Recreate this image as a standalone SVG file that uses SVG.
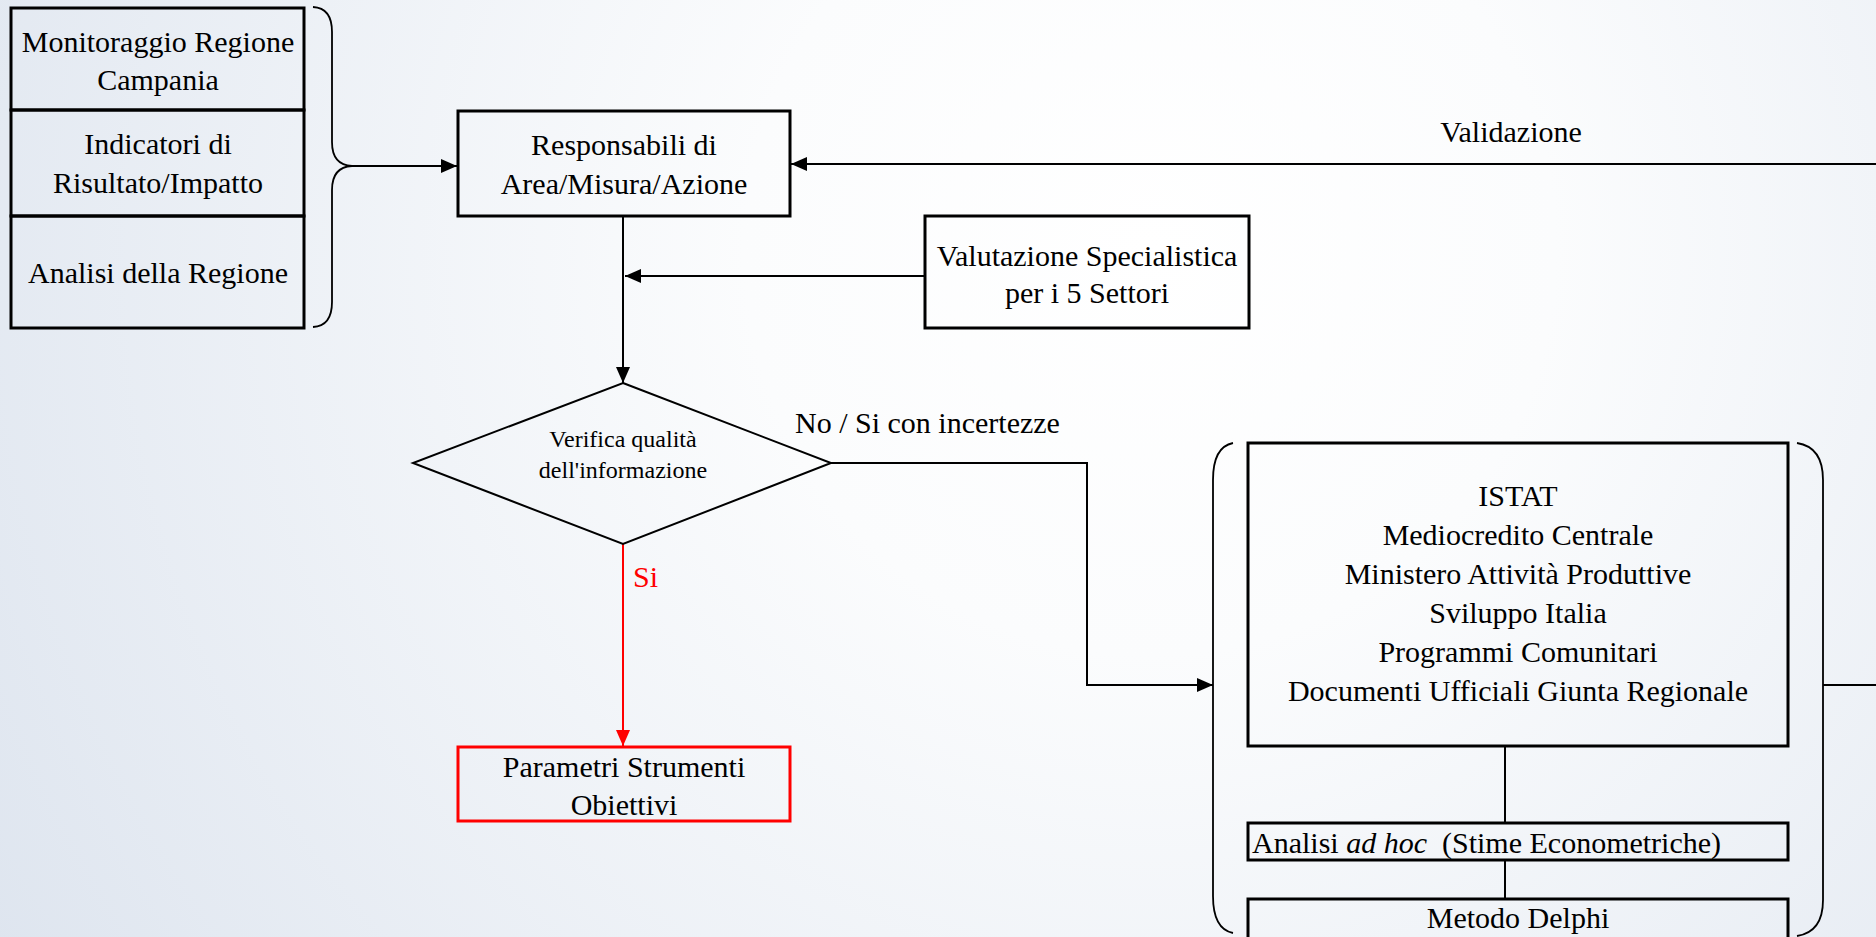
<svg xmlns="http://www.w3.org/2000/svg" width="1876" height="937" viewBox="0 0 1876 937">
<defs>
<radialGradient id="bg" gradientUnits="userSpaceOnUse" cx="1150" cy="250" r="1350">
<stop offset="0" stop-color="#ffffff"/>
<stop offset="0.3" stop-color="#fbfcfd"/>
<stop offset="1" stop-color="#dee5ef"/>
</radialGradient>
<marker id="ah" markerUnits="userSpaceOnUse" markerWidth="16" markerHeight="14" refX="16" refY="7" orient="auto">
<path d="M0,0 L16,7 L0,14 z" fill="#000"/>
</marker>
<marker id="ahr" markerUnits="userSpaceOnUse" markerWidth="16" markerHeight="14" refX="16" refY="7" orient="auto">
<path d="M0,0 L16,7 L0,14 z" fill="#ff0000"/>
</marker>
</defs>
<style>
.box{fill:none;stroke:#000;stroke-width:3}
.rbox{fill:none;stroke:#ff0000;stroke-width:3}
.conn{fill:none;stroke:#000;stroke-width:2}
.rconn{fill:none;stroke:#ff0000;stroke-width:2}
.brace{fill:none;stroke:#000;stroke-width:1.8}
.t{font-family:"Liberation Serif","Times New Roman",Times,serif;font-size:30px;fill:#000;text-anchor:middle}
.ts{font-size:24px}
.red{fill:#ff0000}
.st{text-anchor:start}
</style>
<rect x="0" y="0" width="1876" height="937" fill="url(#bg)"/>

<g id="connectors">
<path class="brace" d="M313,7 Q332,8 332,32 L332,142 Q332,165 352,166 Q332,167 332,190 L332,302 Q332,326 313,327"/>
<line class="conn" x1="352" y1="166" x2="457" y2="166" marker-end="url(#ah)"/>
<line class="conn" x1="1876" y1="164" x2="791" y2="164" marker-end="url(#ah)"/>
<line class="conn" x1="925" y1="276" x2="625" y2="276" marker-end="url(#ah)"/>
<line class="conn" x1="623" y1="217" x2="623" y2="383" marker-end="url(#ah)"/>
<line class="rconn" x1="623" y1="544" x2="623" y2="746" marker-end="url(#ahr)"/>
<polyline class="conn" points="831,463 1087,463 1087,685 1213,685" marker-end="url(#ah)"/>
<path class="brace" d="M1233,443 Q1213,447 1213,480 L1213,896 Q1213,929 1233,933"/>
<path class="brace" d="M1797,443 Q1823,447 1823,480 L1823,900 Q1823,932 1797,936"/>
<line class="conn" x1="1823" y1="685" x2="1876" y2="685"/>
<line class="conn" x1="1505" y1="746" x2="1505" y2="823"/>
<line class="conn" x1="1505" y1="860" x2="1505" y2="899"/>
<text class="t" x="1511" y="142">Validazione</text>
<text class="t st" x="795" y="433">No / Si con incertezze</text>
<text class="t st red" x="633" y="587">Si</text>
</g>

<g id="monitoraggio">
<rect class="box" x="11" y="8" width="293" height="102"/>
<text class="t" x="158" y="52">Monitoraggio Regione</text>
<text class="t" x="158" y="90">Campania</text>
</g>
<g id="indicatori">
<rect class="box" x="11" y="110" width="293" height="106"/>
<text class="t" x="158" y="154">Indicatori di</text>
<text class="t" x="158" y="193">Risultato/Impatto</text>
</g>
<g id="analisi-regione">
<rect class="box" x="11" y="216" width="293" height="112"/>
<text class="t" x="158" y="283">Analisi della Regione</text>
</g>

<g id="responsabili">
<rect class="box" x="458" y="111" width="332" height="105"/>
<text class="t" x="624" y="155">Responsabili di</text>
<text class="t" x="624" y="194">Area/Misura/Azione</text>
</g>

<g id="valutazione">
<rect class="box" x="925" y="216" width="324" height="112"/>
<text class="t" x="1087" y="266">Valutazione Specialistica</text>
<text class="t" x="1087" y="303">per i 5 Settori</text>
</g>

<g id="verifica">
<polygon class="conn" points="623,383 831,463 623,544 413,463"/>
<text class="t ts" x="623" y="447">Verifica qualità</text>
<text class="t ts" x="623" y="478">dell'informazione</text>
</g>

<g id="parametri">
<rect class="rbox" x="458" y="747" width="332" height="74"/>
<text class="t" x="624" y="777">Parametri Strumenti</text>
<text class="t" x="624" y="815">Obiettivi</text>
</g>

<g id="fonti">
<rect class="box" x="1248" y="443" width="540" height="303"/>
<text class="t" x="1518" y="506">ISTAT</text>
<text class="t" x="1518" y="545">Mediocredito Centrale</text>
<text class="t" x="1518" y="584">Ministero Attività Produttive</text>
<text class="t" x="1518" y="623">Sviluppo Italia</text>
<text class="t" x="1518" y="662">Programmi Comunitari</text>
<text class="t" x="1518" y="701">Documenti Ufficiali Giunta Regionale</text>
</g>

<g id="analisi-adhoc">
<rect class="box" x="1248" y="823" width="540" height="37"/>
<text class="t st" x="1252" y="853" xml:space="preserve">Analisi <tspan font-style="italic">ad hoc</tspan>  (Stime Econometriche)</text>
</g>

<g id="delphi">
<rect class="box" x="1248" y="899" width="540" height="46"/>
<text class="t" x="1518" y="928">Metodo Delphi</text>
</g>
</svg>
